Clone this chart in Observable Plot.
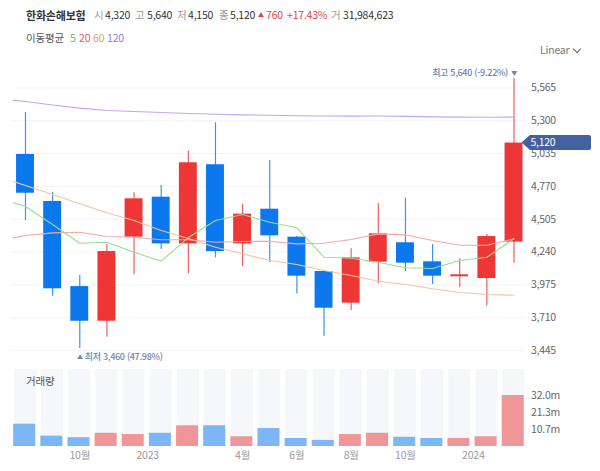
<!DOCTYPE html>
<html lang="ko">
<head>
<meta charset="utf-8">
<script src="https://cdn.jsdelivr.net/npm/d3@7"></script>
<script src="https://cdn.jsdelivr.net/npm/@observablehq/plot@0.6"></script>
<style>
  html,body{margin:0;padding:0;background:#fff;width:600px;height:471px;overflow:hidden;font-family:"Noto Sans CJK KR","Noto Sans",sans-serif;}
  #root{position:relative;width:600px;height:471px;}
  #root svg{position:absolute;left:0;overflow:visible;}
  .t{position:absolute;white-space:nowrap;font-size:10.5px;line-height:14px;letter-spacing:-0.2px;}
  .chev{position:absolute;left:574px;top:46px;width:5px;height:5px;border-right:1px solid #666;border-bottom:1px solid #666;transform:rotate(45deg);}
</style>
</head>
<body>
<div id="root"></div>
<script>
const opens  = [5028,4648,3961,3681,4360,4683,4306,4945,4306,4586,4360,4083,3827,4158,4315,4161,4040,4026,4320];
const closes = [4715,3943,3681,4244,4670,4306,4961,4244,4546,4371,4045,3786,4193,4387,4150,4045,4056,4365,5120];
const highs  = [5367,4723,4050,4301,4718,4777,5054,5284,4624,4979,4365,4091,4266,4630,4675,4301,4185,4382,5640];
const lows   = [4495,3883,3460,3552,4056,4260,4064,4193,4123,4155,3902,3560,3768,3983,4083,3978,3951,3802,4150];
const volumes= [14.0,6.5,5.5,8.3,7.5,8.3,13.0,13.0,6.1,11.3,5.0,3.8,7.5,8.3,5.8,5.0,5.0,6.1,31.98];
// moving averages start one period before the first visible candle
const ma5   = [4675,4608,4462,4311,4319,4239,4166,4357,4495,4543,4481,4436,4198,4190,4158,4113,4107,4172,4198,4347];
const ma20  = [4333,4373,4395,4400,4365,4360,4339,4339,4319,4325,4327,4306,4311,4341,4387,4379,4333,4295,4295,4347];
const ma60  = [4850,4777,4705,4630,4557,4495,4414,4349,4279,4226,4172,4139,4091,4050,4004,3978,3943,3913,3897,3891];
const ma120 = [5480,5456,5428,5402,5383,5375,5367,5359,5353,5348,5345,5341,5339,5338,5339,5336,5332,5330,5329,5330];
const priceTicks = [5565,5300,5035,4770,4505,4240,3975,3710,3445];
const volumeTicks = [10.7,21.3,32.0];
const volumeTop = 48.3;
const xTickIndex = [2,4.5,8,10,12,14,16.5];
const xTickLabels = ["10월","2023","4월","6월","8월","10월","2024"];
const highLabel = "최고 5,640 (-9.22%)";
const lowLabel = "최저 3,460 (47.98%)";
const lastClose = 5120, highestIdx = 18, lowestIdx = 2, highest = 5640, lowest = 3460;

const FONT = '"Noto Sans CJK KR","Noto Sans",sans-serif';
const BLUE="#0b78ee", RED="#ee3636", VBLUE="#7db6f5", VRED="#f09698";
const xDomain=[-0.442,18.46];
const halfBody=0.33, halfVol=0.405;
const candles = opens.map((o,i)=>({i,o,c:closes[i],h:highs[i],l:lows[i],v:volumes[i],color:closes[i]>=o?RED:BLUE,vcolor:closes[i]>=o?VRED:VBLUE}));
const maLine=(vals,stroke)=>Plot.line(vals.map((v,k)=>({i:k-1,v})),{x:"i",y:"v",stroke,strokeWidth:1.1,clip:true});

const price = Plot.plot({
  width:600,height:362,marginTop:60,marginBottom:2,marginLeft:13,marginRight:74,
  style:{fontFamily:FONT,background:"transparent",fontSize:"10.5px",color:"#666",letterSpacing:"-0.3px"},
  x:{domain:xDomain,axis:null},
  y:{domain:[3364,5787],axis:null},
  marks:[
    Plot.gridY(priceTicks,{stroke:"#f1f3f6",strokeOpacity:1,strokeWidth:1}),
    Plot.axisY(priceTicks,{anchor:"right",tickSize:0,tickPadding:4.5,tickFormat:d3.format(","),fill:"#666",label:null}),
    Plot.ruleX(candles,{x:"i",y1:"l",y2:"h",stroke:"color",strokeWidth:1.2,strokeOpacity:0.8}),
    Plot.rect(candles,{x1:d=>d.i-halfBody,x2:d=>d.i+halfBody,y1:"o",y2:"c",fill:"color"}),
    maLine(ma120,"#c3a6ee"),
    maLine(ma20,"#f5a9a9"),
    maLine(ma60,"#f6c49a"),
    maLine(ma5,"#97dc95"),
    Plot.text([highLabel],{x:()=>highestIdx,y:()=>highest,text:d=>d,textAnchor:"end",dx:-6,dy:-6,fill:"#6c84b6",fontSize:9,fontWeight:500}),
    Plot.text(["▼"],{x:()=>highestIdx,y:()=>highest,text:d=>d,textAnchor:"middle",dx:0,dy:-6,fill:"#6c84b6",fontSize:6}),
    Plot.text(["▲"],{x:()=>lowestIdx,y:()=>lowest,text:d=>d,textAnchor:"middle",dx:0,dy:8,fill:"#6c84b6",fontSize:6}),
    Plot.text([lowLabel],{x:()=>lowestIdx,y:()=>lowest,text:d=>d,textAnchor:"start",dx:5,dy:8,fill:"#6c84b6",fontSize:9,fontWeight:500})
  ]
});
price.style.top="0px";

const volume = Plot.plot({
  width:600,height:111,marginTop:9,marginBottom:25,marginLeft:13,marginRight:74,
  style:{fontFamily:FONT,background:"transparent",fontSize:"10.5px",color:"#666",letterSpacing:"-0.2px"},
  x:{domain:xDomain,axis:null},
  y:{domain:[0,volumeTop],axis:null},
  marks:[
    Plot.rect(candles,{x1:d=>d.i-halfVol,x2:d=>d.i+halfVol,y1:0,y2:()=>volumeTop,fill:"#f5f7fa"}),
    Plot.rect(candles,{x1:d=>d.i-halfVol,x2:d=>d.i+halfVol,y1:0,y2:"v",fill:"vcolor",dx:-0.8}),
    Plot.axisY(volumeTicks,{anchor:"right",tickSize:0,tickPadding:4.5,tickFormat:d=>d.toFixed(1)+"m",fill:"#666",label:null}),
    Plot.axisX(xTickIndex,{anchor:"bottom",tickSize:0,tickPadding:5,tickFormat:d=>xTickLabels[xTickIndex.indexOf(d)],fill:"#999",label:null})
  ]
});
volume.style.top="360px";

const root=document.getElementById("root");
root.append(price,volume);

const header=[
 ["한화손해보험",26,"#333",11,700],["시",94,"#999"],["4,320",105,"#333"],["고",135,"#999"],["5,640",147,"#333"],
 ["저",177,"#999"],["4,150",188,"#333"],["종",219,"#999"],["5,120",230,"#333"],["▲",258,"#e2404d",6],["760",266,"#e2404d"],
 ["+17.43%",287,"#e2404d"],["거",331,"#999"],["31,984,623",343,"#333"]
];
header.forEach(([s,x,c,fs,w])=>{const e=document.createElement("div");e.className="t";e.textContent=s;
  e.style.cssText=`left:${x}px;top:8px;color:${c};${fs?`font-size:${fs}px;`:""}${w?`font-weight:${w};`:""}`;root.append(e);});
const legend=[["이동평균",26,"#555"],["5",70,"#5cb85c"],["20",79,"#e8596a"],["60",93,"#e6a173"],["120",107,"#8f7de8"]];
legend.forEach(([s,x,c])=>{const e=document.createElement("div");e.className="t";e.textContent=s;
  e.style.cssText=`left:${x}px;top:31px;color:${c};`;root.append(e);});
const add=(s,css)=>{const e=document.createElement("div");e.className="t";e.textContent=s;e.style.cssText=css;root.append(e);return e;};
add("Linear","left:540px;top:43px;color:#777;");
const ch=document.createElement("div");ch.className="chev";root.append(ch);
add("거래량","left:26px;top:374px;color:#555;");

// current-price tag, placed through the price scale
const py = price.scale("y").apply(lastClose);
const tag = d3.create("svg").attr("width",600).attr("height",471).style("top","0px").style("pointer-events","none");
tag.append("path").attr("fill","#43609f")
  .attr("d",`M521.5,${py}L530,${py-7.5}H589a2,2 0 0 1 2,2V${py+5.5}a2,2 0 0 1 -2,2H530Z`);
tag.append("text").attr("x",530.5).attr("y",py).attr("dy","0.35em")
  .attr("fill","#ffffff").attr("font-family",FONT).attr("font-size",10.5).attr("letter-spacing","-0.3px")
  .text(d3.format(",")(lastClose));
root.append(tag.node());
</script>
</body>
</html>
